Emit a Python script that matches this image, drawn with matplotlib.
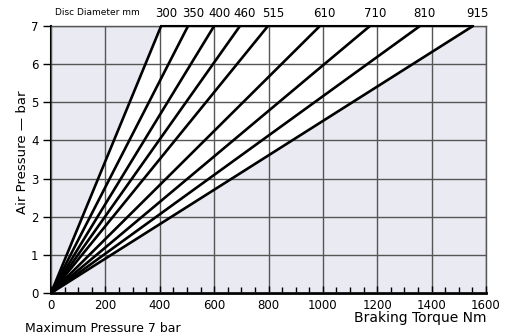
import matplotlib
matplotlib.use("Agg")
import matplotlib.pyplot as plt
import numpy as np

diameters = [300, 350, 400, 460, 515, 610, 710, 810, 915]
torque_at_max = [405, 504, 600, 695, 798, 989, 1173, 1357, 1552]
max_pressure = 7
x_ticks = [0, 200, 400, 600, 800, 1000, 1200, 1400, 1600]
y_ticks = [0, 1, 2, 3, 4, 5, 6, 7]

plt.rcParams['font.family'] = ['DejaVu Sans']

fig = plt.figure(figsize=(5.17, 3.36), dpi=100)
ax = fig.add_axes([51/517, 1-293/336, (486-51)/517, (293-26)/336])
gray = '#EAEAF2'
ax.set_facecolor(gray)
ax.set_xlim(0, 1600)
ax.set_ylim(0, 7)

ax.fill([0, torque_at_max[0], torque_at_max[-1]], [0, max_pressure, max_pressure],
        color='white', zorder=1, lw=0)

ax.set_xticks(x_ticks)
ax.set_yticks(y_ticks)
ax.set_xticks(np.arange(0, 1601, 50), minor=True)
ax.grid(True, which='major', color='#555555', lw=1.0, zorder=2)
ax.set_axisbelow(False)

for d, t in zip(diameters, torque_at_max):
    ax.plot([0, t], [0, max_pressure], color='black', lw=1.9, zorder=3,
            solid_capstyle='butt')
    ax.text(t + 18, max_pressure + 0.15, str(d), ha='center', va='bottom',
            fontsize=8.5, clip_on=False)

ax.plot([torque_at_max[0], torque_at_max[-1]], [max_pressure, max_pressure],
        color='black', lw=1.5, zorder=4, clip_on=False)

ax.text(0.01, 1.035, 'Disc Diameter mm', transform=ax.transAxes, fontsize=6.5,
        ha='left', va='bottom')

for s in ['top', 'right']:
    ax.spines[s].set_color('#555555')
    ax.spines[s].set_linewidth(1.0)
ax.spines['bottom'].set_linewidth(2.0)
ax.spines['left'].set_linewidth(1.5)

ax.tick_params(axis='x', which='major', direction='in', length=5, width=1,
               labelsize=8.5, pad=4)
ax.tick_params(axis='x', which='minor', direction='in', length=4, width=1)
ax.tick_params(axis='y', which='major', direction='out', length=6, width=1,
               labelsize=8.5, pad=3)

fig.text(23/517, 1-152/336, 'Air Pressure \u2014 bar', rotation=90,
         ha='center', va='center', fontsize=9.5)
fig.text(486/517, 1-318/336, 'Braking Torque Nm', ha='right', va='center',
         fontsize=10)
fig.text(25/517, 1/336, 'Maximum Pressure 7 bar', ha='left', va='bottom',
         fontsize=9)

fig.savefig('out.png', dpi=100)
